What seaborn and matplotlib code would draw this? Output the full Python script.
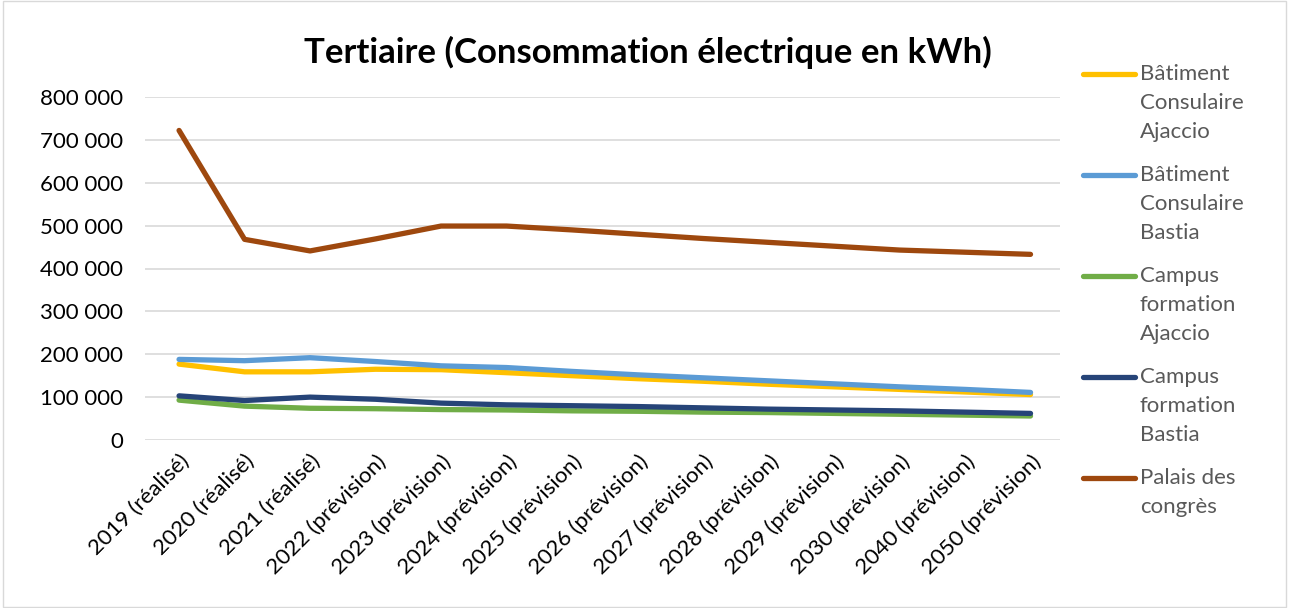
import matplotlib
matplotlib.use("Agg")
import matplotlib.pyplot as plt
import seaborn as sns
import pandas as pd
from matplotlib.ticker import FuncFormatter
from matplotlib.lines import Line2D

categories = ["2019 (réalisé)", "2020 (réalisé)", "2021 (réalisé)", "2022 (prévision)",
              "2023 (prévision)", "2024 (prévision)", "2025 (prévision)", "2026 (prévision)",
              "2027 (prévision)", "2028 (prévision)", "2029 (prévision)", "2030 (prévision)",
              "2040 (prévision)", "2050 (prévision)"]

bat_ajaccio = [177000, 159000, 159000, 165000, 164000, 157000, 150000, 143000, 137000, 130000, 124000, 118000, 112000, 106000]
bat_bastia = [188000, 185000, 192000, 183000, 173000, 169000, 160000, 152000, 145000, 138000, 131000, 124000, 118000, 111000]
campus_ajaccio = [93000, 79000, 74000, 73000, 71000, 70000, 68000, 67000, 65000, 64000, 62000, 60000, 58000, 56000]
campus_bastia = [103000, 92000, 100000, 95000, 86000, 82000, 80000, 78000, 75000, 72000, 70000, 68000, 65000, 62000]
palais = [722000, 468000, 441000, 469000, 499000, 499000, 490000, 480000, 470000, 461000, 452000, 443000, 438000, 433000]

series_names = ["Bâtiment Consulaire Ajaccio", "Bâtiment Consulaire Bastia",
                "Campus formation Ajaccio", "Campus formation Bastia", "Palais des congrès"]
legend_labels = ["Bâtiment\nConsulaire\nAjaccio", "Bâtiment\nConsulaire\nBastia",
                 "Campus\nformation\nAjaccio", "Campus\nformation\nBastia", "Palais des\ncongrès"]
colors = ["#FFC000", "#5B9BD5", "#70AD47", "#264478", "#9E480E"]
yticks = [0, 100000, 200000, 300000, 400000, 500000, 600000, 700000, 800000]

rows = []
for name, vals in zip(series_names, [bat_ajaccio, bat_bastia, campus_ajaccio, campus_bastia, palais]):
    for i, (c, v) in enumerate(zip(categories, vals)):
        rows.append({"idx": i, "cat": c, "serie": name, "val": v})
df = pd.DataFrame(rows)

sns.set_theme(style="white")
plt.rcParams["font.family"] = ["Lato", "DejaVu Sans"]

W, H = 1289, 608
fig = plt.figure(figsize=(W/100, H/100), dpi=100)
ax = fig.add_axes([145/W, 1 - 440/H, (1060-145)/W, (440-97)/H])

sns.lineplot(data=df, x="idx", y="val", hue="serie", hue_order=series_names,
             palette=colors, linewidth=3.8, ax=ax, legend=False,
             solid_capstyle="round", solid_joinstyle="round")

ax.set_xlim(-0.52, 13.45)
ax.set_ylim(0, 800000)
ax.set_yticks(yticks)
ax.yaxis.set_major_formatter(FuncFormatter(lambda v, p: f"{int(v):,}".replace(",", " ")))
ax.set_xticks(range(len(categories)))
ax.set_xticklabels(categories, rotation=45, ha="right", rotation_mode="anchor")
ax.tick_params(axis="both", length=0, labelsize=16, colors="black")
ax.tick_params(axis="x", pad=8)
ax.tick_params(axis="y", pad=16)
ax.grid(axis="y", color="#D9D9D9", linewidth=1.2)
ax.set_axisbelow(True)
for s in ax.spines.values():
    s.set_visible(False)
ax.set_xlabel("")
ax.set_ylabel("")

fig.text(648/W, 1 - 52/H, "Tertiaire (Consommation électrique en kWh)", ha="center", va="center",
         fontsize=25, fontweight="bold", color="black")

# legend drawn manually
for k, (c, lab) in enumerate(zip(colors, legend_labels)):
    yc = 74 + k * 101
    fig.add_artist(Line2D([1083/W, 1135/W], [1 - yc/H, 1 - yc/H], transform=fig.transFigure,
                          color=c, linewidth=3.8, solid_capstyle="round"))
    for j, line in enumerate(lab.split("\n")):
        fig.text(1140/W, 1 - (yc + j * 29)/H, line, ha="left", va="center",
                 fontsize=16, color="#595959")

border = plt.Rectangle((0.002, 0.002), 0.996, 0.996, transform=fig.transFigure, fill=False,
                       edgecolor="#D9D9D9", linewidth=1)
fig.patches.append(border)

fig.savefig("out.png", dpi=100)
